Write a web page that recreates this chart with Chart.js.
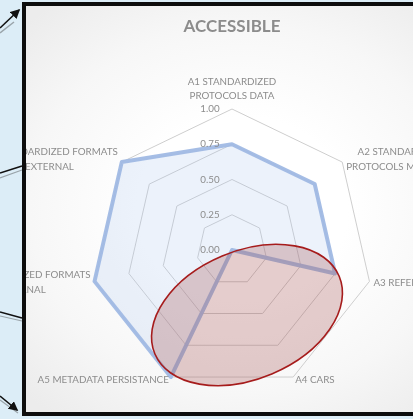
<!DOCTYPE html>
<html>
<head>
<meta charset="utf-8">
<script src="https://cdn.jsdelivr.net/npm/chart.js@4"></script>
<style>
  html, body { margin: 0; padding: 0; }
  body { width: 413px; height: 419px; overflow: hidden; background: #dcedf7; position: relative; }
  #arrows { position: absolute; left: 0; top: 0; }
  #frame {
    position: absolute; left: 22px; top: 2px; width: 440px; height: 414px;
    box-sizing: border-box; border: 4px solid #0d0d0d; overflow: hidden;
    background: radial-gradient(ellipse 70% 65% at 50% 50%, #ffffff 35%, #f7f7f7 70%, #ececec 100%);
  }
  #chart { position: absolute; left: 0; top: 0; }
</style>
</head>
<body>
<svg id="arrows" width="30" height="419" viewBox="0 0 30 419">
  <defs>
    <marker id="ah" markerWidth="6" markerHeight="6" refX="5" refY="3" orient="auto" markerUnits="strokeWidth">
      <path d="M0,0 L6,3 L0,6 z" fill="#111"/>
    </marker>
  </defs>
  <line x1="0" y1="33" x2="14" y2="22" stroke="#9aa4aa" stroke-width="1.5"/>
  <line x1="0" y1="28" x2="19" y2="10" stroke="#111" stroke-width="1.6" marker-end="url(#ah)"/>
  <line x1="0" y1="178" x2="22" y2="170" stroke="#9aa4aa" stroke-width="1.2"/>
  <line x1="0" y1="173" x2="22" y2="166" stroke="#111" stroke-width="1.6"/>
  <line x1="0" y1="316" x2="22" y2="321" stroke="#9aa4aa" stroke-width="1.2"/>
  <line x1="0" y1="312" x2="22" y2="318" stroke="#111" stroke-width="1.6"/>
  <line x1="0" y1="400" x2="18" y2="413" stroke="#9aa4aa" stroke-width="1.2"/>
  <line x1="0" y1="396" x2="17" y2="410" stroke="#111" stroke-width="1.6" marker-end="url(#ah)"/>
</svg>
<div id="frame">
  <canvas id="chart" width="387" height="406"></canvas>
</div>
<script>
// ---- data ----
const categories = [
  ['A1 STANDARDIZED', 'PROTOCOLS DATA'],
  ['A2 STANDARDIZED', 'PROTOCOLS METADATA'],
  ['A3 REFERENCED METADATA'],
  ['A4 CARS'],
  ['A5 METADATA PERSISTANCE'],
  ['A6 STANDARDIZED FORMATS', 'INTERNAL'],
  ['A7 STANDARDIZED FORMATS', 'EXTERNAL']
];
const values = [0.75, 0.75, 0.75, 0, 1, 1, 1];
const tickValues = [0, 0.25, 0.5, 0.75, 1];
const chartTitle = 'ACCESSIBLE';

const labelFont = '9.8px Lato';
const textGray = '#8c8c8c';

const overlay = {
  id: 'overlay',
  afterDatasetsDraw(chart) {
    const s = chart.scales.r;
    const ctx = chart.ctx;
    ctx.save();
    // tick labels
    ctx.font = labelFont;
    ctx.fillStyle = textGray;
    ctx.textAlign = 'center';
    ctx.textBaseline = 'middle';
    tickValues.forEach(v => {
      const d = s.getDistanceFromCenterForValue(v);
      ctx.fillText(v.toFixed(2), s.xCenter - 22, s.yCenter - d);
    });
    // category labels
    const lineH = 14.5;
    categories.forEach((lines, i) => {
      const p = s.getPointPosition(i, s.drawingArea);
      const dx = Math.cos(p.angle), dy = Math.sin(p.angle);
      const blockW = Math.max(...lines.map(l => ctx.measureText(l).width));
      const gap = dy > 0.8 ? 2 : 4;
      let cx;
      if (dx > 0.1) cx = p.x + gap + blockW / 2;
      else if (dx < -0.1) cx = p.x - gap - blockW / 2;
      else cx = p.x;
      let firstY;
      if (dy < -0.9) {
        firstY = p.y - 13 - (lines.length - 1) * lineH;
      } else {
        const off = dy > 0.8 ? 3 : (dy > 0 ? 1 : -3);
        firstY = p.y + off - (lines.length - 1) * lineH / 2;
      }
      lines.forEach((l, k) => ctx.fillText(l, cx, firstY + k * lineH));
    });
    // highlight ellipse (annotation)
    ctx.beginPath();
    ctx.ellipse(s.xCenter + 15, s.yCenter + 65, 100, 64, -0.398, 0, Math.PI * 2);
    ctx.fillStyle = 'rgba(160, 75, 75, 0.28)';
    ctx.fill();
    ctx.lineWidth = 1.6;
    ctx.strokeStyle = '#a61c1c';
    ctx.stroke();
    ctx.restore();
  }
};

new Chart(document.getElementById('chart'), {
  type: 'radar',
  data: {
    labels: categories.map(l => l.join(' ')),
    datasets: [{
      data: values,
      borderColor: 'rgba(160, 185, 228, 0.95)',
      backgroundColor: 'rgba(170, 195, 235, 0.22)',
      borderWidth: 4,
      borderJoinStyle: 'round',
      pointRadius: 0,
      fill: true
    }]
  },
  options: {
    responsive: false,
    animation: false,
    devicePixelRatio: 1,
    layout: { padding: { left: 64, right: 39, top: 10, bottom: 20 } },
    plugins: {
      legend: { display: false },
      tooltip: { enabled: false },
      title: {
        display: true,
        text: chartTitle,
        color: textGray,
        font: { family: 'Lato', size: 17, weight: 'bold' },
        padding: { top: 0, bottom: 72 }
      }
    },
    scales: {
      r: {
        min: 0, max: 1,
        startAngle: 0,
        ticks: { stepSize: 0.25, display: false },
        grid: { color: '#cecece', lineWidth: 1 },
        angleLines: { display: false },
        pointLabels: { display: false }
      }
    }
  },
  plugins: [overlay]
});
</script>
</body>
</html>
